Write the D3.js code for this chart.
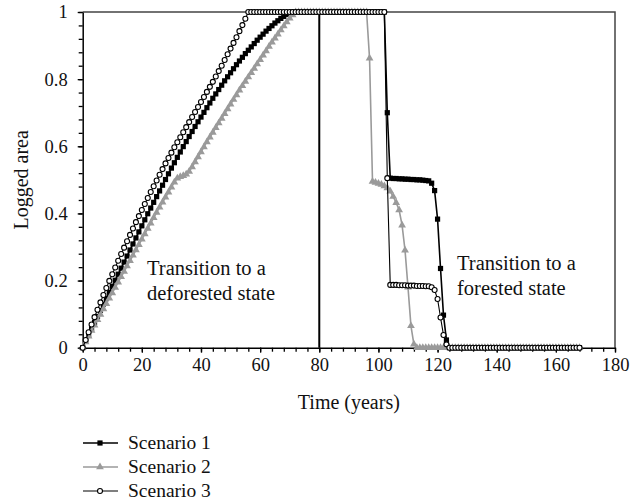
<!DOCTYPE html>
<html>
<head>
<meta charset="utf-8">
<script src="https://cdn.jsdelivr.net/npm/d3@7"></script>
<style>
  body { margin: 0; background: #fff; }
  text { font-family: "Liberation Serif", "DejaVu Serif", serif; fill: #111; }
</style>
</head>
<body>
<div id="chart"></div>
<script>
// time steps (years)
const years = d3.range(0, 169);

// Scenario 1 - black squares
const scenario1 = [
  0, .019, .038, .057, .075, .093, .111, .129, .147, .165,
  .183, .201, .219, .237, .255, .273, .291, .309, .327, .345,
  .363, .381, .399, .416, .433, .450, .467, .484, .501, .518,
  .535, .551, .567, .583, .599, .614, .629, .644, .659, .673,
  .687, .701, .715, .729, .743, .756, .769, .782, .795, .807,
  .819, .831, .843, .854, .865, .876, .886, .896, .906, .916,
  .925, .934, .943, .951, .959, .967, .974, .981, .987, .993,
  .998, 1, 1, 1, 1, 1, 1, 1, 1, 1,
  1, 1, 1, 1, 1, 1, 1, 1, 1, 1,
  1, 1, 1, 1, 1, 1, 1, 1, 1, 1,
  1, 1, 1, .70, .505, .504, .504, .503, .503, .502,
  .502, .501, .501, .500, .500, .499, .498, .497, .49, .468,
  .383, .236, .097, .023, 0, 0, 0, 0, 0, 0,
  0, 0, 0, 0, 0, 0, 0, 0, 0, 0,
  0, 0, 0, 0, 0, 0, 0, 0, 0, 0,
  0, 0, 0, 0, 0, 0, 0, 0, 0, 0,
  0, 0, 0, 0, 0, 0, 0, 0, 0
];

// Scenario 2 - grey triangles
const scenario2 = [
  0, .017, .034, .051, .067, .083, .099, .115, .131, .147,
  .163, .179, .195, .211, .227, .243, .259, .275, .291, .307,
  .323, .339, .355, .371, .387, .403, .418, .433, .448, .463,
  .478, .493, .505, .509, .512, .517, .525, .538, .553, .568,
  .583, .598, .613, .627, .641, .655, .669, .683, .697, .711,
  .725, .739, .753, .767, .780, .793, .806, .819, .832, .845,
  .858, .871, .884, .897, .910, .922, .934, .946, .958, .970,
  .981, .991, 1, 1, 1, 1, 1, 1, 1, 1,
  1, 1, 1, 1, 1, 1, 1, 1, 1, 1,
  1, 1, 1, 1, 1, 1, 1, .862, .495, .492,
  .489, .486, .482, .476, .466, .450, .432, .41, .365, .29,
  .18, .065, .01, 0, 0, 0, 0, 0, 0, 0,
  0, 0, 0, 0, 0, 0, 0, 0, 0, 0,
  0, 0, 0, 0, 0, 0, 0, 0, 0, 0,
  0, 0, 0, 0, 0, 0, 0, 0, 0, 0,
  0, 0, 0, 0, 0, 0, 0, 0, 0, 0,
  0, 0, 0, 0, 0, 0, 0, 0, 0
];

// Scenario 3 - open circles
const scenario3 = [
  0, .023, .046, .069, .091, .113, .135, .157, .178, .199,
  .219, .239, .259, .279, .298, .317, .336, .355, .374, .392,
  .410, .428, .446, .464, .481, .498, .515, .532, .549, .565,
  .581, .597, .612, .627, .642, .657, .672, .687, .702, .717,
  .732, .747, .762, .777, .792, .808, .824, .840, .857, .874,
  .891, .908, .925, .943, .961, .980, 1, 1, 1, 1,
  1, 1, 1, 1, 1, 1, 1, 1, 1, 1,
  1, 1, 1, 1, 1, 1, 1, 1, 1, 1,
  1, 1, 1, 1, 1, 1, 1, 1, 1, 1,
  1, 1, 1, 1, 1, 1, 1, 1, 1, 1,
  1, 1, 1, .505, .187, .187, .187, .186, .186, .186,
  .185, .185, .185, .184, .184, .184, .183, .183, .18, .172,
  .145, .09, .038, .01, 0, 0, 0, 0, 0, 0,
  0, 0, 0, 0, 0, 0, 0, 0, 0, 0,
  0, 0, 0, 0, 0, 0, 0, 0, 0, 0,
  0, 0, 0, 0, 0, 0, 0, 0, 0, 0,
  0, 0, 0, 0, 0, 0, 0, 0, 0
];

const seriesNames = ["Scenario 1", "Scenario 2", "Scenario 3"];
const xTicks = [0, 20, 40, 60, 80, 100, 120, 140, 160, 180];
const yTicks = [0, 0.2, 0.4, 0.6, 0.8, 1];
const transitionYear = 80;

const width = 640, height = 503;
const plotLeft = 82.7, plotRight = 615, plotTop = 12, plotBottom = 347.7;

const svg = d3.select("#chart").append("svg")
  .attr("width", width)
  .attr("height", height);

const x = d3.scaleLinear().domain([0, 180]).range([plotLeft, plotRight]);
const y = d3.scaleLinear().domain([0, 1]).range([plotBottom, plotTop]);

// frame (top and right)
svg.append("path")
  .attr("d", `M${plotLeft},${plotTop}H${plotRight}V${plotBottom}`)
  .attr("fill", "none")
  .attr("stroke", "#444")
  .attr("stroke-width", 1.5);

// minor ticks
svg.append("g")
  .attr("transform", `translate(0,${plotBottom})`)
  .call(d3.axisBottom(x).tickValues(d3.range(0, 181, 4)).tickSize(4).tickFormat(""))
  .call(g => g.select(".domain").remove())
  .call(g => g.selectAll("line").attr("stroke", "#000").attr("stroke-width", 1.3));
svg.append("g")
  .attr("transform", `translate(${plotLeft},0)`)
  .call(d3.axisLeft(y).tickValues(d3.range(0, 1.001, 0.04)).tickSize(4).tickFormat(""))
  .call(g => g.select(".domain").remove())
  .call(g => g.selectAll("line").attr("stroke", "#000").attr("stroke-width", 1.3));

// main axes
const xAxis = svg.append("g")
  .attr("transform", `translate(0,${plotBottom})`)
  .call(d3.axisBottom(x).tickValues(xTicks).tickSize(5).tickSizeOuter(0).tickPadding(5));
const yAxis = svg.append("g")
  .attr("transform", `translate(${plotLeft},0)`)
  .call(d3.axisLeft(y).tickValues(yTicks).tickFormat(d3.format("~g")).tickSize(5).tickSizeOuter(0).tickPadding(10));
[xAxis, yAxis].forEach(a => {
  a.select(".domain").attr("stroke", "#000").attr("stroke-width", 1.5);
  a.selectAll("line").attr("stroke", "#000").attr("stroke-width", 1.3);
  a.selectAll("text").attr("font-size", 18.5).attr("fill", "#111")
    .style("font-family", '"Liberation Serif", "DejaVu Serif", serif');
});

// vertical line at transition
svg.append("line")
  .attr("x1", x(transitionYear)).attr("x2", x(transitionYear))
  .attr("y1", y(1)).attr("y2", y(0))
  .attr("stroke", "#000").attr("stroke-width", 2);

// axis titles
svg.append("text")
  .attr("x", x(90)).attr("y", 409)
  .attr("text-anchor", "middle").attr("font-size", 20)
  .text("Time (years)");
svg.append("text")
  .attr("transform", `translate(28,${(plotTop + plotBottom) / 2}) rotate(-90)`)
  .attr("text-anchor", "middle").attr("font-size", 20)
  .text("Logged area");

// annotations
const note1 = svg.append("text").attr("font-size", 20.5);
note1.append("tspan").attr("x", 147).attr("y", 275).text("Transition to a");
note1.append("tspan").attr("x", 147).attr("y", 300).text("deforested state");
const note2 = svg.append("text").attr("font-size", 20.5);
note2.append("tspan").attr("x", 457).attr("y", 270).text("Transition to a");
note2.append("tspan").attr("x", 457).attr("y", 295).text("forested state");

// series
const styles = [
  { color: "#000", width: 1.6, marker: "square" },
  { color: "#9a9a9a", width: 1.6, marker: "triangle" },
  { color: "#000", width: 1.1, marker: "circle" }
];
const allSeries = [scenario1, scenario2, scenario3];

const line = d3.line().x(d => x(d[0])).y(d => y(d[1]));

function drawMarker(g, type, color) {
  if (type === "square") {
    g.append("rect").attr("x", -2.6).attr("y", -2.6).attr("width", 5.2).attr("height", 5.2)
      .attr("fill", color);
  } else if (type === "triangle") {
    g.append("path").attr("d", d3.symbol(d3.symbolTriangle, 26)())
      .attr("fill", color);
  } else {
    g.append("circle").attr("r", 2.5)
      .attr("fill", "#fff").attr("stroke", color).attr("stroke-width", 1.1);
  }
}

allSeries.forEach((vals, i) => {
  const st = styles[i];
  const pts = years.map((t, j) => [t, vals[j]]);
  const g = svg.append("g");
  g.append("path").datum(pts)
    .attr("d", line)
    .attr("fill", "none")
    .attr("stroke", st.color)
    .attr("stroke-width", st.width);
  g.selectAll("g.m").data(pts).enter().append("g")
    .attr("class", "m")
    .attr("transform", d => `translate(${x(d[0])},${y(d[1])})`)
    .each(function () { drawMarker(d3.select(this), st.marker, st.color); });
});

// legend
const legendY = [443, 467, 491];
seriesNames.forEach((name, i) => {
  const st = styles[i];
  const g = svg.append("g").attr("transform", `translate(0,${legendY[i]})`);
  g.append("line").attr("x1", 83).attr("x2", 118).attr("y1", 0).attr("y2", 0)
    .attr("stroke", st.color).attr("stroke-width", st.width);
  const m = g.append("g").attr("transform", "translate(100,0)");
  drawMarker(m, st.marker, st.color);
  g.append("text").attr("x", 128).attr("y", 6).attr("font-size", 19.5).text(name);
});
</script>
</body>
</html>
